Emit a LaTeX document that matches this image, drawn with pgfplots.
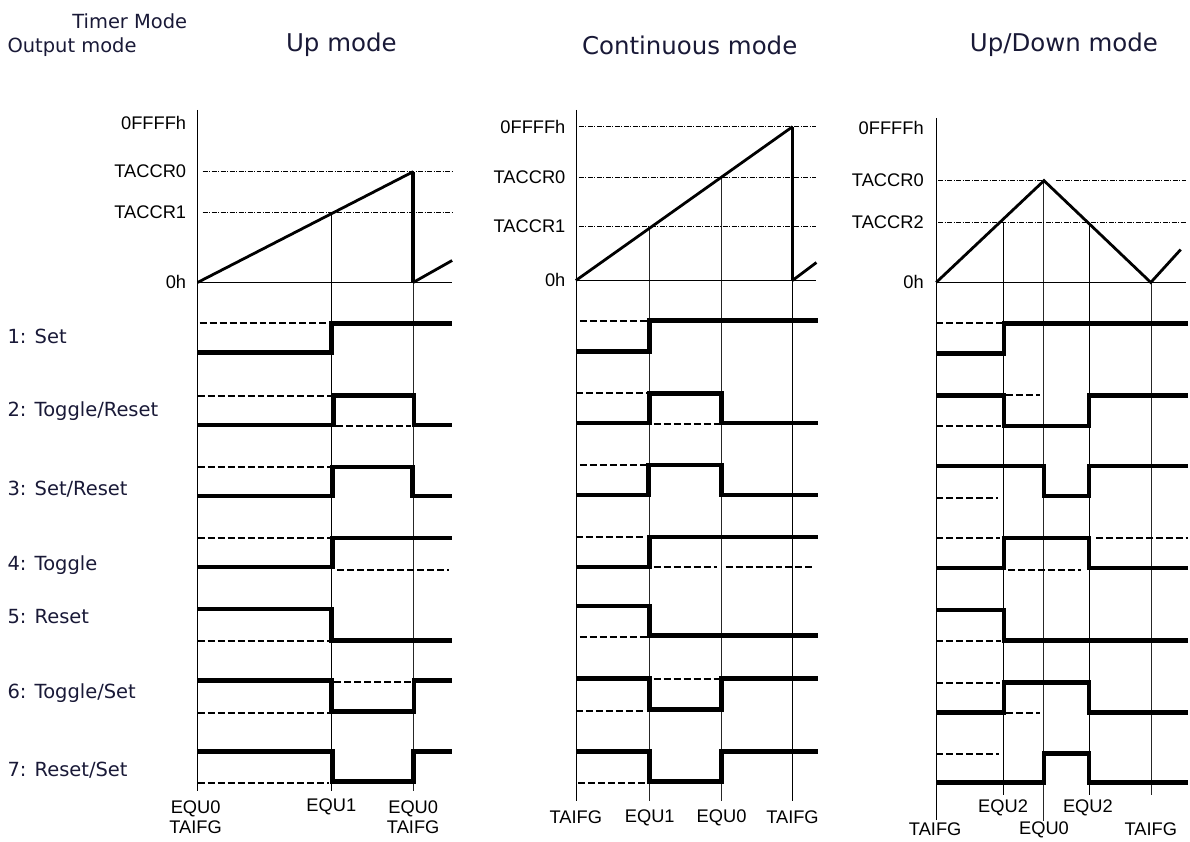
\documentclass[border=0pt]{standalone}
\usepackage{pgfplots}
\pgfplotsset{compat=1.18}
\usepackage{fontspec}
\setmainfont{DejaVu Sans}
\newfontfamily\arial{Liberation Sans}
\definecolor{navy}{RGB}{25,25,55}
\tikzset{
  grid/.style={gray!65, line width=1pt},
  gridk/.style={black!85, line width=1pt},
  refl/.style={black, line width=0.8pt, dash pattern=on 5pt off 1.5pt on 1pt off 1.5pt},
  ramp/.style={black, line width=2.8pt},
  drop/.style={black, line width=3.6pt},
  sig/.style={black, line width=4.6pt, line join=miter},
  dsh/.style={black, line width=2pt, dash pattern=on 7pt off 3pt},
  lbl/.style={font=\fontsize{19.5}{22}\selectfont, anchor=west, text=navy},
  ttl/.style={font=\fontsize{24.5}{28}\selectfont, text=navy},
  tk/.style={font=\arial\fontsize{18.3}{20}\selectfont, anchor=east},
  bt/.style={font=\arial\fontsize{18.3}{20.5}\selectfont, align=center},
}
\begin{document}
\begin{tikzpicture}
\begin{axis}[
  width=1190pt, height=843pt, scale only axis,
  xmin=0, xmax=1190, ymin=0, ymax=843, y dir=reverse,
  hide axis, clip=false,
  every axis plot/.append style={mark=none},
]
\addplot[draw=none] coordinates {(0,0) (1190,843)};

% ---------- Up mode ----------
\addplot[grid] coordinates {(198,110) (198,793)};
\addplot[grid] coordinates {(332,213) (332,793)};
\addplot[gridk] coordinates {(414,283) (414,793)};
\addplot[grid] coordinates {(198,283) (453,283)};
\addplot[refl] coordinates {(203,172) (453,172)};
\addplot[refl] coordinates {(203,213) (453,213)};
\addplot[ramp] coordinates {(198,283) (414,172)};
\addplot[drop] coordinates {(414,172) (414,283)};
\addplot[ramp] coordinates {(414,283) (453,261)};
% 1 Set
\addplot[dsh] coordinates {(200,324) (332,324)};
\addplot[sig] coordinates {(198,353) (332,353) (332,324) (453,324)};
% 2 Toggle/Reset
\addplot[dsh] coordinates {(198,397) (332,397)};
\addplot[dsh] coordinates {(337,427) (412,427)};
\addplot[sig] coordinates {(198,426) (334,426) (334,396) (415,396) (415,426) (453,426)};
% 3 Set/Reset
\addplot[dsh] coordinates {(198,468) (332,468)};
\addplot[sig] coordinates {(198,497) (333,497) (333,468) (413,468) (413,497) (453,497)};
% 4 Toggle
\addplot[dsh] coordinates {(198,539) (332,539)};
\addplot[dsh] coordinates {(338,571) (450,571)};
\addplot[sig] coordinates {(198,568) (333,568) (333,539) (453,539)};
% 5 Reset
\addplot[dsh] coordinates {(198,642) (332,642)};
\addplot[sig] coordinates {(198,610) (332,610) (332,642) (453,642)};
% 6 Toggle/Set
\addplot[dsh] coordinates {(198,714) (330,714)};
\addplot[dsh] coordinates {(335,683) (412,683)};
\addplot[sig] coordinates {(198,682) (332,682) (332,713) (415,713) (415,682) (453,682)};
% 7 Reset/Set
\addplot[dsh] coordinates {(198,785) (330,785)};
\addplot[sig] coordinates {(198,753) (333,753) (333,783) (414,783) (414,753) (453,753)};

% ---------- Continuous mode ----------
\addplot[grid] coordinates {(577,110) (577,803)};
\addplot[gridk] coordinates {(651,227) (651,803)};
\addplot[gridk] coordinates {(723,178) (723,803)};
\addplot[grid] coordinates {(794,281) (794,803)};
\addplot[grid] coordinates {(577,281) (818,281)};
\addplot[refl] coordinates {(580,127) (818,127)};
\addplot[refl] coordinates {(580,178) (818,178)};
\addplot[refl] coordinates {(580,227) (818,227)};
\addplot[ramp] coordinates {(577,281) (794,127)};
\addplot[drop] coordinates {(794,127) (794,281)};
\addplot[ramp] coordinates {(794,281) (818,263)};
% 1
\addplot[dsh] coordinates {(581,322) (650,322)};
\addplot[sig] coordinates {(577,352) (651,352) (651,321) (820,321)};
% 2
\addplot[dsh] coordinates {(577,394) (648,394)};
\addplot[dsh] coordinates {(655,425) (720,425)};
\addplot[sig] coordinates {(577,424) (651,424) (651,394) (723,394) (723,424) (820,424)};
% 3
\addplot[dsh] coordinates {(581,466) (648,466)};
\addplot[sig] coordinates {(577,496) (650,496) (650,466) (723,466) (723,496) (820,496)};
% 4
\addplot[dsh] coordinates {(577,538) (645,538)};
\addplot[dsh] coordinates {(655,568) (718,568)};
\addplot[dsh] coordinates {(727,568) (817,568)};
\addplot[sig] coordinates {(577,568) (651,568) (651,538) (820,538)};
% 5
\addplot[dsh] coordinates {(581,638) (648,638)};
\addplot[sig] coordinates {(577,607) (651,607) (651,637) (820,637)};
% 6
\addplot[dsh] coordinates {(577,712) (645,712)};
\addplot[dsh] coordinates {(655,680) (720,680)};
\addplot[sig] coordinates {(577,680) (651,680) (651,711) (723,711) (723,680) (820,680)};
% 7
\addplot[dsh] coordinates {(579,785) (648,785)};
\addplot[sig] coordinates {(577,753) (651,753) (651,783) (723,783) (723,753) (820,753)};

% ---------- Up/Down mode ----------
\addplot[grid] coordinates {(938,118) (938,822)};
\addplot[grid] coordinates {(1005,223) (1005,797)};
\addplot[gridk] coordinates {(1046,181) (1046,823)};
\addplot[grid] coordinates {(1091,223) (1091,797)};
\addplot[gridk] coordinates {(1154,283) (1154,797)};
\addplot[grid] coordinates {(938,283) (1188,283)};
\addplot[refl] coordinates {(940,181) (1045,181)};
\addplot[refl] coordinates {(1058,181) (1188,181)};
\addplot[refl] coordinates {(940,223) (1188,223)};
\addplot[ramp] coordinates {(938,283) (1046,181) (1153,283) (1183,250)};
% 1
\addplot[dsh] coordinates {(938,324) (1005,324)};
\addplot[sig] coordinates {(938,354) (1006,354) (1006,324) (1190,324)};
% 2
\addplot[dsh] coordinates {(938,427) (1003,427)};
\addplot[dsh] coordinates {(1008,396) (1042,396)};
\addplot[sig] coordinates {(938,396) (1006,396) (1006,427) (1091,427) (1091,396) (1190,396)};
% 3
\addplot[dsh] coordinates {(938,499) (1000,499)};
\addplot[sig] coordinates {(938,467) (1046,467) (1046,497) (1091,497) (1091,467) (1190,467)};
% 4
\addplot[dsh] coordinates {(938,539) (1002,539)};
\addplot[dsh] coordinates {(1010,571) (1083,571)};
\addplot[dsh] coordinates {(1098,539) (1190,539)};
\addplot[sig] coordinates {(938,569) (1006,569) (1006,539) (1091,539) (1091,569) (1190,569)};
% 5
\addplot[dsh] coordinates {(938,642) (1003,642)};
\addplot[sig] coordinates {(938,611) (1006,611) (1006,642) (1190,642)};
% 6
\addplot[dsh] coordinates {(938,684) (1002,684)};
\addplot[dsh] coordinates {(1008,714) (1042,714)};
\addplot[sig] coordinates {(938,714) (1006,714) (1006,684) (1091,684) (1091,714) (1190,714)};
% 7
\addplot[dsh] coordinates {(938,755) (1001,755)};
\addplot[sig] coordinates {(938,784) (1046,784) (1046,755) (1091,755) (1091,784) (1190,784)};

% ---------- text ----------
\node[lbl, anchor=center] at (axis cs:130,21) {Timer Mode};
\node[lbl] at (axis cs:4,47) {Output mode};
\node[ttl] at (axis cs:342,45) {Up mode};
\node[ttl] at (axis cs:691,45) {Continuous mode};
\node[ttl] at (axis cs:1066,45) {Up/Down mode};

\node[lbl] at (axis cs:4,337) {1: Set};
\node[lbl] at (axis cs:4,412) {2: Toggle/Reset};
\node[lbl] at (axis cs:4,490) {3: Set/Reset};
\node[lbl] at (axis cs:4,566) {4: Toggle};
\node[lbl] at (axis cs:4,618) {5: Reset};
\node[lbl] at (axis cs:4,694) {6: Toggle/Set};
\node[lbl] at (axis cs:4,772) {7: Reset/Set};

\node[tk] at (axis cs:190,123) {0FFFFh};
\node[tk] at (axis cs:190,172) {TACCR0};
\node[tk] at (axis cs:190,213) {TACCR1};
\node[tk] at (axis cs:190,283) {0h};
\node[tk] at (axis cs:570,127) {0FFFFh};
\node[tk] at (axis cs:570,178) {TACCR0};
\node[tk] at (axis cs:570,227) {TACCR1};
\node[tk] at (axis cs:570,281) {0h};
\node[tk] at (axis cs:929,128) {0FFFFh};
\node[tk] at (axis cs:929,181) {TACCR0};
\node[tk] at (axis cs:929,223) {TACCR2};
\node[tk] at (axis cs:929,283) {0h};

\node[bt] at (axis cs:196,819) {EQU0\\TAIFG};
\node[bt] at (axis cs:332,808) {EQU1};
\node[bt] at (axis cs:414,819) {EQU0\\TAIFG};
\node[bt] at (axis cs:577,819) {TAIFG};
\node[bt] at (axis cs:651,819) {EQU1};
\node[bt] at (axis cs:723,819) {EQU0};
\node[bt] at (axis cs:794,819) {TAIFG};
\node[bt] at (axis cs:1005,809) {EQU2};
\node[bt] at (axis cs:1090,809) {EQU2};
\node[bt] at (axis cs:937,831) {TAIFG};
\node[bt] at (axis cs:1046,831) {EQU0};
\node[bt] at (axis cs:1153,831) {TAIFG};
\end{axis}
\end{tikzpicture}
\end{document}
